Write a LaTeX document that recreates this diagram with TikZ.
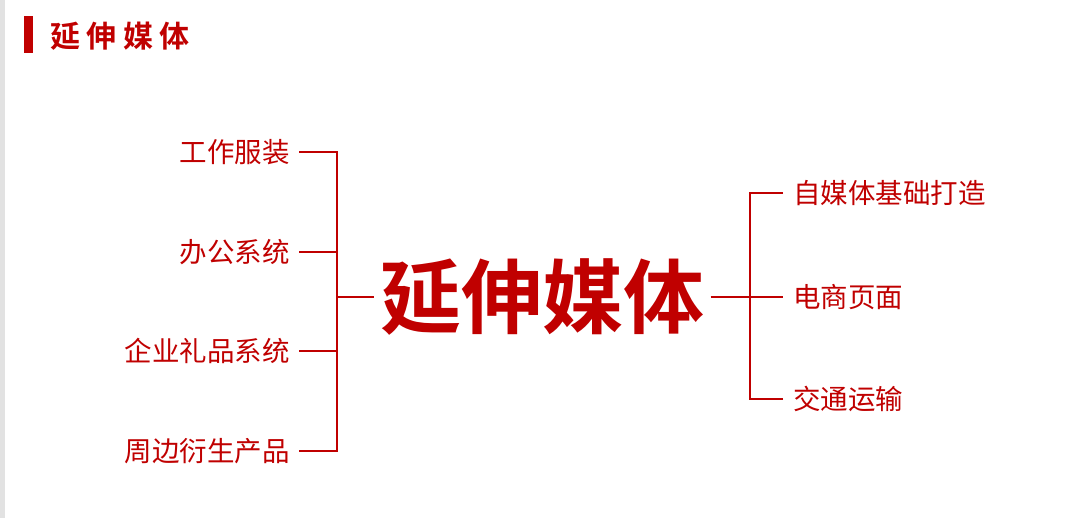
\documentclass[tikz,border=0pt]{standalone}
\usepackage{fontspec}
\newfontfamily\cjk{Noto Sans CJK SC}
\newfontfamily\cjkbold{Noto Sans CJK SC Bold}
\definecolor{brandred}{HTML}{C00000}
\definecolor{edgegray}{HTML}{E2E2E2}
\begin{document}
\begin{tikzpicture}[x=1pt,y=-1pt,
  conn/.style={draw=brandred,line width=2pt},
  leftlabel/.style={anchor=east,inner xsep=9pt,inner ysep=0pt,text=brandred,font=\cjk\fontsize{27.5}{30}\selectfont},
  rightlabel/.style={anchor=west,inner xsep=10pt,inner ysep=0pt,text=brandred,font=\cjk\fontsize{27.5}{30}\selectfont},
  hub/.style={inner xsep=6pt,inner ysep=0pt,text=brandred,font=\cjkbold\fontsize{81}{90}\selectfont},
  titletext/.style={anchor=west,inner sep=0pt,text=brandred,font=\cjkbold\fontsize{30}{34}\selectfont}
]
\useasboundingbox (0,0) rectangle (1080,518);
\fill[white] (0,0) rectangle (1080,518);
\fill[edgegray] (0,0) rectangle (5,518);
% title
\fill[brandred] (24,16) rectangle (33,53);
\node[titletext] (title) at (50,36) {延\hspace{6.5pt}伸\hspace{6.5pt}媒\hspace{6.5pt}体};
% center
\node[hub] (center) at (542.5,297) {延伸媒体};
% left labels
\node[leftlabel] (l1) at (299,152) {工作服装};
\node[leftlabel] (l2) at (299,252) {办公系统};
\node[leftlabel] (l3) at (299,351) {企业礼品系统};
\node[leftlabel] (l4) at (299,451) {周边衍生产品};
% right labels
\node[rightlabel] (r1) at (783,193) {自媒体基础打造};
\node[rightlabel] (r2) at (783,297) {电商页面};
\node[rightlabel] (r3) at (783,399) {交通运输};
% junctions
\coordinate (jl) at (337,297);
\coordinate (jr) at (750,297);
% connectors
\draw[conn] (l1.east) -| (jl);
\draw[conn] (l4.east) -| (jl);
\draw[conn] (l2.east) -- (l2.east -| jl);
\draw[conn] (l3.east) -- (l3.east -| jl);
\draw[conn] (jl) -- (center.west);
\draw[conn] (center.east) -- (r2.west);
\draw[conn] (r1.west) -| (jr);
\draw[conn] (r3.west) -| (jr);
\end{tikzpicture}
\end{document}
